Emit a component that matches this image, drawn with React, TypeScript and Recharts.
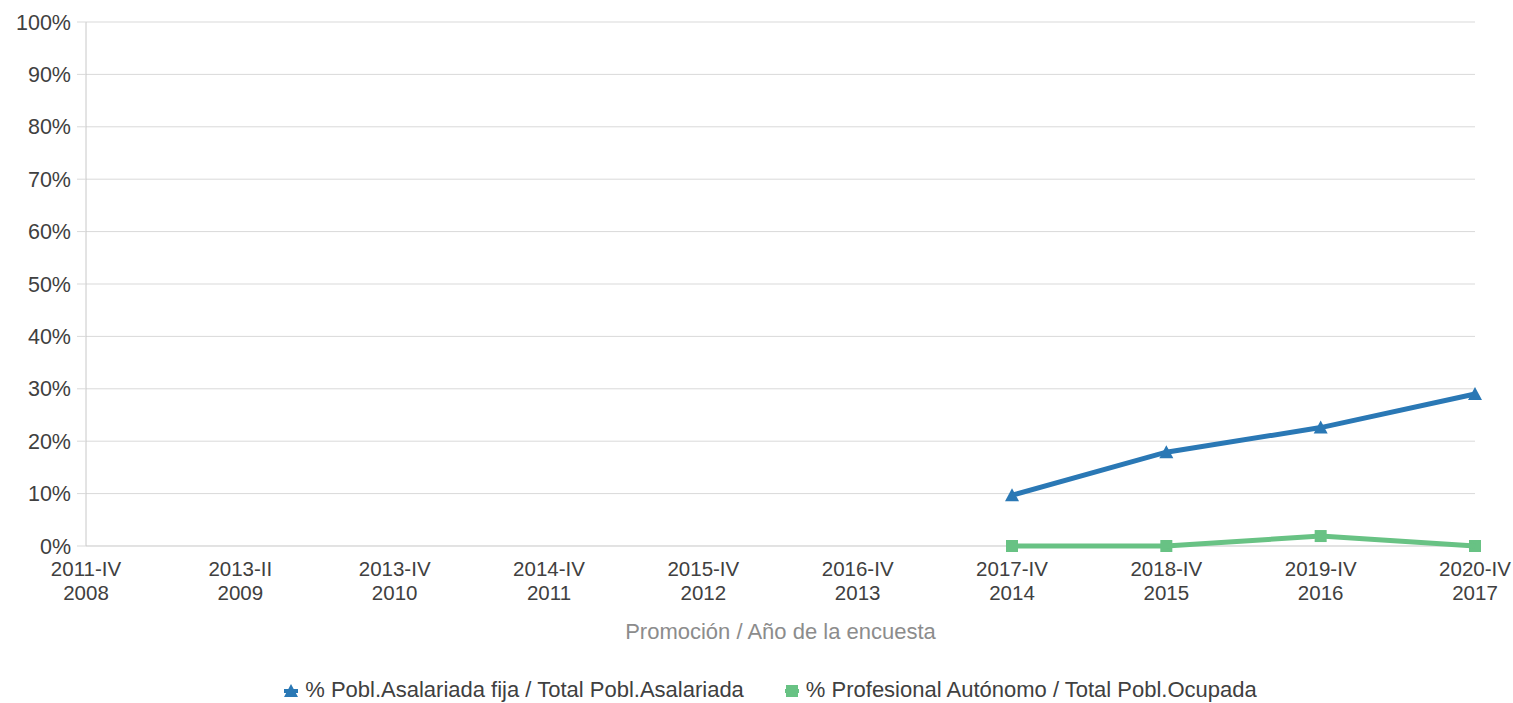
import { LineChart, Line, XAxis, YAxis, CartesianGrid } from "recharts";

const categories = [
  "2011-IV\n2008",
  "2013-II\n2009",
  "2013-IV\n2010",
  "2014-IV\n2011",
  "2015-IV\n2012",
  "2016-IV\n2013",
  "2017-IV\n2014",
  "2018-IV\n2015",
  "2019-IV\n2016",
  "2020-IV\n2017",
];
const asalariadaFija = [null, null, null, null, null, null, 9.7, 17.9, 22.6, 29.0];
const autonomo = [null, null, null, null, null, null, 0, 0, 1.9, 0];
const yTicks = [0, 10, 20, 30, 40, 50, 60, 70, 80, 90, 100];

const BLUE = "#2a78b5";
const GREEN = "#68c284";
const FONT = "Liberation Sans, Arial, sans-serif";

const data = categories.map((c, i) => ({ cat: c, fija: asalariadaFija[i], auto: autonomo[i] }));

function Triangle({ cx, cy, color }: { cx: number; cy: number; color: string }) {
  return <path d={`M${cx},${cy - 7} L${cx + 7},${cy + 6} L${cx - 7},${cy + 6} Z`} fill={color} />;
}

function Square({ cx, cy, color }: { cx: number; cy: number; color: string }) {
  return <rect x={cx - 6} y={cy - 6} width={12} height={12} fill={color} />;
}

function XTick({ x, y, payload }: any) {
  const [a, b] = String(payload.value).split("\n");
  return (
    <g fill="#404040" fontSize={20.5} fontFamily={FONT} textAnchor="middle">
      <text x={x} y={y} dy={22}>{a}</text>
      <text x={x} y={y} dy={46}>{b}</text>
    </g>
  );
}

function LegendItem({ label, color, square }: { label: string; color: string; square?: boolean }) {
  return (
    <div style={{ display: "flex", alignItems: "center", gap: 6 }}>
      <svg width={16} height={16}>
        <line x1={1} y1={9} x2={15} y2={9} stroke={color} strokeWidth={4} />
        {square ? <Square cx={8} cy={9} color={color} /> : <Triangle cx={8} cy={9} color={color} />}
      </svg>
      <span>{label}</span>
    </div>
  );
}

export default function App() {
  return (
    <div style={{ position: "absolute", left: 0, top: 0, width: 1513, height: 703, background: "#fff", fontFamily: FONT }}>
      <LineChart width={1513} height={703} data={data} margin={{ top: 22, right: 38, left: 0, bottom: 0 }}>
        <CartesianGrid vertical={false} stroke="#d9d9d9" />
        <XAxis
          dataKey="cat"
          height={157}
          interval={0}
          tickLine={false}
          axisLine={{ stroke: "#d9d9d9" }}
          tick={<XTick />}
          label={{
            value: "Promoción / Año de la encuesta",
            position: "insideBottom",
            offset: 64,
            fill: "#8c8c8c",
            fontSize: 22,
            fontFamily: FONT,
          }}
        />
        <YAxis
          width={86}
          domain={[0, 100]}
          ticks={yTicks}
          interval={0}
          tickFormatter={(v) => `${v}%`}
          tickSize={9}
          tickMargin={6}
          tickLine={{ stroke: "#d9d9d9" }}
          axisLine={{ stroke: "#c8c8c8" }}
          tick={{ fill: "#404040", fontSize: 21.5, fontFamily: FONT }}
        />
        <Line
          dataKey="fija"
          stroke={BLUE}
          strokeWidth={5}
          isAnimationActive={false}
          zIndex={700}
          dot={(p: any) => (p.value == null ? <g key={p.index} /> : <Triangle key={p.index} cx={p.cx} cy={p.cy} color={BLUE} />)}
          activeDot={false}
        />
        <Line
          dataKey="auto"
          stroke={GREEN}
          strokeWidth={5}
          isAnimationActive={false}
          zIndex={700}
          dot={(p: any) => (p.value == null ? <g key={p.index} /> : <Square key={p.index} cx={p.cx} cy={p.cy} color={GREEN} />)}
          activeDot={false}
        />
      </LineChart>
      <div
        style={{
          position: "absolute",
          top: 677,
          left: 0,
          width: 1540,
          display: "flex",
          justifyContent: "center",
          gap: 40,
          fontSize: 22,
          color: "#404040",
        }}
      >
        <LegendItem label="% Pobl.Asalariada fija / Total Pobl.Asalariada" color={BLUE} />
        <LegendItem label="% Profesional Autónomo / Total Pobl.Ocupada" color={GREEN} square />
      </div>
    </div>
  );
}
